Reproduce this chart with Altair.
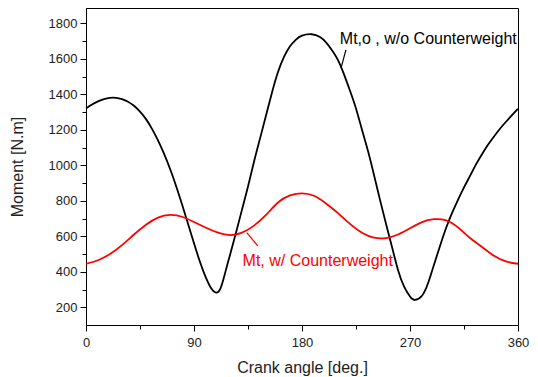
import altair as alt
import pandas as pd

# ---- data ----
angle_wo = [0, 5, 10, 15, 20, 25, 30, 35, 40, 45, 50, 55, 60, 65, 70, 75, 80, 85, 90, 95,
            100, 104, 108, 112, 116, 120, 125, 130, 135, 140, 145, 150, 155, 160, 165, 170,
            175, 180, 188, 195, 200, 205, 210, 215, 220, 225, 230, 235, 240, 245, 250, 255,
            260, 265, 270, 274, 280, 285, 290, 295, 300, 305, 310, 315, 320, 325, 330,
            335, 340, 345, 350, 355, 360]
moment_wo = [1320, 1342, 1360, 1373, 1380, 1380, 1372, 1358, 1335, 1302, 1260, 1205, 1140,
             1065, 980, 885, 780, 670, 560, 455, 365, 310, 283, 305, 395, 495, 620, 750, 880,
             1020, 1150, 1280, 1410, 1525, 1610, 1670, 1708, 1730, 1738, 1722, 1692, 1648,
             1592, 1512, 1420, 1320, 1200, 1080, 945, 805, 670, 540, 410, 318, 260, 241,
             265, 335, 440, 545, 645, 730, 805, 875, 940, 1005, 1062, 1115, 1162, 1206, 1245,
             1282, 1318]

angle_w = [0, 10, 20, 30, 40, 50, 60, 70, 80, 90, 100, 110, 120, 130, 140, 150, 160, 170,
           180, 190, 200, 210, 220, 230, 240, 250, 260, 270, 280, 290, 300, 310, 320, 330,
           340, 350, 360]
moment_w = [445, 465, 500, 550, 610, 665, 705, 720, 710, 680, 648, 620, 606, 620, 660, 720,
            790, 830, 842, 828, 785, 730, 670, 620, 592, 590, 610, 645, 680, 696, 690, 650,
            590, 540, 490, 458, 445]

x_major = [0, 90, 180, 270, 360]
x_minor = [45, 135, 225, 315]
y_major = [200, 400, 600, 800, 1000, 1200, 1400, 1600, 1800]
y_minor = [300, 500, 700, 900, 1100, 1300, 1500, 1700]

label_text = ["Mt,o , w/o Counterweight", "Mt, w/ Counterweight"]
label_x = [211.5, 130.5]
label_y = [1714, 461]
leader_x = [216.6, 134.0]
leader_y = [1650, 621]
leader_x2 = [212.5, 143.1]
leader_y2 = [1547, 546]
colors = ["#000000", "#ff0000"]

FONT = "Liberation Sans"

df_wo = pd.DataFrame({"angle": angle_wo, "moment": moment_wo})
df_w = pd.DataFrame({"angle": angle_w, "moment": moment_w})
df_lab = pd.DataFrame({"x": label_x, "y": label_y, "text": label_text, "c": colors})
df_lead = pd.DataFrame({"x": leader_x, "y": leader_y, "x2": leader_x2, "y2": leader_y2, "c": colors})

xs = alt.Scale(domain=[0, 360], nice=False, zero=False)
ys = alt.Scale(domain=[100, 1886], nice=False, zero=False)

x_axis_major = alt.Axis(values=x_major, orient="bottom", title="Crank angle [deg.]",
                        tickSize=6, labelPadding=5, titlePadding=10, grid=False,
                        labelFlush=False, format="d",
                        labelFontSize=13, titleFontSize=16, titleFontWeight="normal")
y_axis_major = alt.Axis(values=y_major, orient="left", title="Moment [N.m]",
                        tickSize=6, labelPadding=3, titlePadding=23, grid=False,
                        labelFlush=False, format="d",
                        labelFontSize=13, titleFontSize=16, titleFontWeight="normal")
x_axis_minor = alt.Axis(values=x_minor, orient="bottom", title=None, labels=False,
                        tickSize=4, grid=False, domain=False)
y_axis_minor = alt.Axis(values=y_minor, orient="left", title=None, labels=False,
                        tickSize=4, grid=False, domain=False)

black = alt.Chart(df_wo).mark_line(color="#000000", strokeWidth=1.8, interpolate="natural").encode(
    x=alt.X("angle:Q", scale=xs, axis=x_axis_major),
    y=alt.Y("moment:Q", scale=ys, axis=y_axis_major),
)
red = alt.Chart(df_w).mark_line(color="#ff0000", strokeWidth=1.8, interpolate="natural").encode(
    x=alt.X("angle:Q", scale=xs, axis=x_axis_minor),
    y=alt.Y("moment:Q", scale=ys, axis=y_axis_minor),
)
leads = alt.Chart(df_lead).mark_rule(strokeWidth=1.2).encode(
    x=alt.X("x:Q", scale=xs, axis=None),
    y=alt.Y("y:Q", scale=ys, axis=None),
    x2="x2:Q",
    y2="y2:Q",
    color=alt.Color("c:N", scale=None),
)
labels = alt.Chart(df_lab).mark_text(align="left", baseline="middle", fontSize=16, font=FONT).encode(
    x=alt.X("x:Q", scale=xs, axis=None),
    y=alt.Y("y:Q", scale=ys, axis=None),
    text="text:N",
    color=alt.Color("c:N", scale=None),
)

chart = alt.layer(black, red, leads, labels).resolve_axis(
    x="independent", y="independent"
).properties(
    width=432,
    height=317,
    autosize=alt.AutoSizeParams(type="none"),
    padding={"left": 78, "top": 0, "right": 12, "bottom": 52},
).configure_view(
    stroke="#000000", strokeWidth=1
).configure_axis(
    labelFont=FONT, titleFont=FONT, labelColor="#222222", titleColor="#222222",
    domainColor="#000000", tickColor="#000000", domainWidth=1, tickWidth=1,
)

chart.save("out.html", embed_options={"renderer": "svg", "actions": False})
